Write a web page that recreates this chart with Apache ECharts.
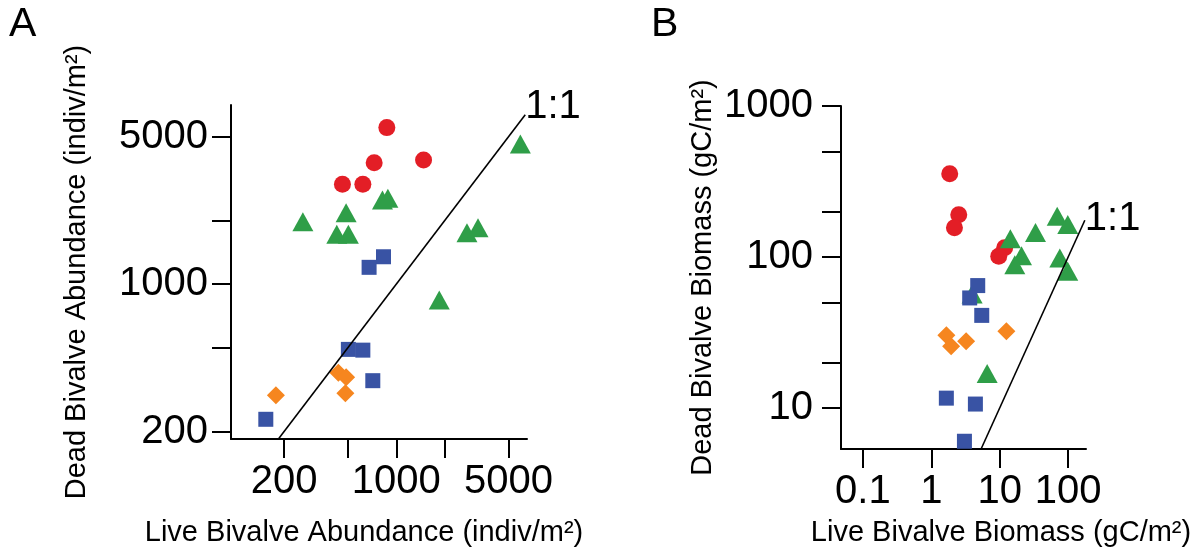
<!doctype html>
<html lang="en">
<head>
    <meta charset="UTF-8">
    <script src="https://cdn.jsdelivr.net/npm/echarts@6/dist/echarts.min.js"></script>
    <title>Bivalve abundance and biomass</title>
    <style>
        html, body { margin: 0; padding: 0; background: #fff; }
    </style>
</head>
<body>
<!-- chart area -->
<div id="main" style="width: 1200px; height: 557px"></div>
<script type="text/javascript">
    // panel A: live vs dead abundance (indiv/m2), [live, dead]
    var abundRed = [[873, 5520], [728, 3765], [1478, 3880], [462, 2975], [619, 2975]];
    var abundGreen = [[5920, 4615], [820, 2506], [886, 2553], [487, 2182], [262, 1977],
        [426, 1723], [503, 1723], [2754, 1754], [3226, 1852], [1851, 841]];
    var abundBlue = [[832, 1349], [677, 1202], [503, 491], [619, 487], [714, 349], [154, 229]];
    var abundOrange = [[436, 381], [487, 362], [482, 304], [178, 298]];
    var abundOneToOne = [[186, 186], [6350, 6350]];

    // panel B: live vs dead biomass (gC/m2), [live, dead]
    var bioRed = [[1.86, 356], [2.52, 190], [2.18, 156], [11.8, 115], [9.67, 101]];
    var bioGreen = [[3.95, 56.9], [69.1, 186], [98.6, 164], [33.3, 145], [14.3, 132],
        [20.8, 102], [16.6, 88.9], [75.4, 98.5], [98.6, 80.3], [6.55, 16.9]];
    var bioBlue = [[4.77, 64.6], [3.64, 53.5], [5.46, 41.0], [1.66, 11.6], [4.41, 10.6], [3.05, 6.01]];
    var bioOrange = [[1.66, 30.3], [1.95, 25.6], [3.23, 27.6], [12.5, 32.2]];
    var bioOneToOne = [[5.3, 5.3], [175, 175]];

    // ticks
    var abundTicks = [200, 500, 1000, 2000, 5000];
    var abundLabels = [200, 1000, 5000];
    var bioXTicks = [0.1, 1, 10, 100];
    var bioYTicks = [10, 20, 50, 100, 200, 500, 1000];
    var bioYLabels = [10, 100, 1000];

    var FONT = '"Liberation Sans", Arial, Helvetica, sans-serif';
    var RED = '#e31e26', GREEN = '#2f9e48', BLUE = '#3953a4', ORANGE = '#f6861f';

    function logAxis(grid, min, max, ticks, labels, name, gap, margin, namePad) {
        return {
            type: 'log',
            logBase: 10,
            gridIndex: grid,
            min: min,
            max: max,
            name: name,
            nameLocation: 'middle',
            nameGap: gap,
            nameMoveOverlap: false,
            nameTextStyle: {fontSize: 29, color: '#000', fontFamily: FONT, padding: namePad || 0},
            axisLine: {show: true, lineStyle: {color: '#000', width: 2}},
            axisTick: {show: true, inside: false, length: 19, lineStyle: {color: '#000', width: 2},
                customValues: ticks},
            axisLabel: {show: true, fontSize: 40, color: '#000', fontFamily: FONT, margin: margin,
                customValues: labels, formatter: function (v) { return String(v); }},
            splitLine: {show: false},
            minorTick: {show: false}
        };
    }

    function pts(data, grid, symbol, size, color, z) {
        return {
            type: 'scatter',
            xAxisIndex: grid,
            yAxisIndex: grid,
            data: data,
            symbol: symbol,
            symbolSize: size,
            itemStyle: {color: color, opacity: 1},
            z: z,
            silent: true
        };
    }

    function oneToOne(data, grid, offset) {
        return {
            type: 'line',
            xAxisIndex: grid,
            yAxisIndex: grid,
            data: data,
            showSymbol: false,
            symbol: 'none',
            lineStyle: {color: '#000', width: 1.6},
            endLabel: {show: true, formatter: '1:1', fontSize: 40, color: '#000',
                fontFamily: FONT, distance: 0, offset: offset},
            z: 10,
            silent: true
        };
    }

    var mychart = echarts.init(document.getElementById('main'));
    var option = {
        animation: false,
        backgroundColor: '#fff',
        title: [
            {text: 'A', left: 9, top: 4, padding: 0,
                textStyle: {fontSize: 41, fontWeight: 'normal', color: '#000', fontFamily: FONT}},
            {text: 'B', left: 651, top: 4, padding: 0,
                textStyle: {fontSize: 41, fontWeight: 'normal', color: '#000', fontFamily: FONT}}
        ],
        grid: [
            {left: 231, top: 105, width: 296, height: 334, outerBoundsMode: 'none', containLabel: false},
            {left: 841, top: 106, width: 245, height: 343, outerBoundsMode: 'none', containLabel: false}
        ],
        xAxis: [
            logAxis(0, 93.5, 6512, abundTicks, abundLabels,
                'Live Bivalve Abundance (indiv/m²)', 79, 23, [0, 30, 0, 0]),
            logAxis(1, 0.048, 182, bioXTicks, bioXTicks,
                'Live Bivalve Biomass (gC/m²)', 69, 23, [0, 0, 0, 75])
        ],
        yAxis: [
            logAxis(0, 184.7, 7065, abundTicks, abundLabels,
                'Dead Bivalve Abundance (indiv/m²)', 140, 23),
            logAxis(1, 5.34, 1000, bioYTicks, bioYLabels,
                'Dead Bivalve Biomass (gC/m²)', 124, 28)
        ],
        series: [
            pts(abundRed, 0, 'circle', 17, RED, 2),
            pts(abundGreen, 0, 'triangle', [21, 19], GREEN, 3),
            pts(abundBlue, 0, 'rect', 15, BLUE, 4),
            pts(abundOrange, 0, 'diamond', 18, ORANGE, 5),
            oneToOne(abundOneToOne, 0, [0, -8]),
            pts(bioRed, 1, 'circle', 17, RED, 2),
            pts(bioGreen, 1, 'triangle', [21, 19], GREEN, 3),
            pts(bioBlue, 1, 'rect', 15, BLUE, 4),
            pts(bioOrange, 1, 'diamond', 18, ORANGE, 5),
            oneToOne(bioOneToOne, 1, [0, -1])
        ]
    };
    mychart.setOption(option);
</script>
</body>
</html>
